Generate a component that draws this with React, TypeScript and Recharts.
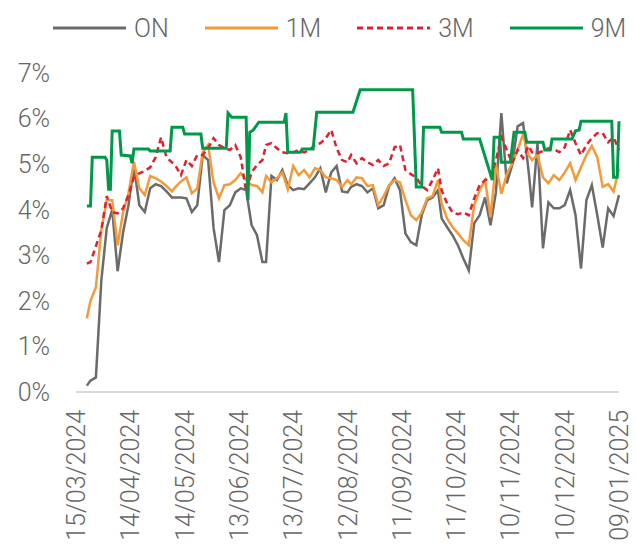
import React from 'react';
import { LineChart, Line, XAxis, YAxis } from 'recharts';

const START = Date.UTC(2024, 2, 15);
const DAY_MS = 86400000;

// day offsets from 15/03/2024
const days = [
  6, 8, 11, 14, 17, 20, 23, 26, 29, 32,
  35, 38, 41, 44, 47, 50, 53, 55, 58, 61,
  64, 67, 70, 73, 76, 79, 82, 85, 88, 91,
  94, 97, 100, 103, 105, 108, 111, 114, 117, 120,
  123, 126, 129, 132, 135, 138, 141, 144, 147, 150,
  152, 155, 158, 161, 164, 167, 170, 173, 176, 179,
  182, 185, 188, 191, 194, 197, 200, 202, 205, 208,
  211, 214, 217, 220, 223, 226, 229, 232, 235, 238,
  241, 244, 247, 250, 252, 255, 258, 261, 264, 267,
  270, 273, 276, 279, 282, 285, 288, 291, 294, 297,
  300,
];

const on = [
  0.14, 0.25, 0.32, 2.45, 3.6, 4.0, 2.65, 3.5, 4.1, 4.96,
  4.1, 3.95, 4.47, 4.56, 4.52, 4.4, 4.27, 4.27, 4.27, 4.25,
  3.95, 4.1, 5.2, 5.09, 3.6, 2.85, 3.99, 4.1, 4.38, 4.47,
  4.43, 3.66, 3.44, 2.85, 2.85, 4.74, 4.65, 4.87, 4.54, 4.43,
  4.47, 4.45, 4.58, 4.71, 4.91, 4.38, 4.82, 4.96, 4.4, 4.38,
  4.5, 4.56, 4.52, 4.38, 4.47, 4.03, 4.1, 4.52, 4.69, 4.43,
  3.48, 3.29, 3.22, 3.88, 4.21, 4.27, 4.43, 3.81, 3.62, 3.44,
  3.22, 2.93, 2.67, 3.7, 3.88, 4.27, 3.66, 4.38, 6.12, 4.58,
  4.98, 5.83, 5.9, 4.87, 4.05, 5.46, 3.15, 4.16, 4.03, 4.03,
  4.1, 4.43, 3.88, 2.71, 4.21, 4.54, 3.88, 3.17, 4.03, 3.86,
  4.32,
];

const m1 = [
  1.62, 2.0, 2.3, 3.55, 4.21, 4.21, 3.22, 3.94, 4.36, 5.05,
  4.47, 4.32, 4.74, 4.69, 4.62, 4.52, 4.4, 4.5, 4.62, 4.71,
  4.36, 4.47, 5.26, 5.42, 4.6, 4.25, 4.54, 4.56, 4.65, 4.8,
  4.65, 4.54, 4.52, 4.38, 4.74, 4.6, 4.69, 4.82, 4.45, 4.96,
  4.76, 4.87, 4.71, 4.91, 4.87, 4.71, 4.69, 4.65, 4.5, 4.65,
  4.56, 4.71, 4.69, 4.52, 4.54, 4.1, 4.3, 4.54, 4.65, 4.6,
  4.21, 3.88, 3.77, 3.94, 4.25, 4.3, 4.65, 4.14, 3.81, 3.62,
  3.48, 3.33, 3.22, 4.1, 4.43, 4.65, 3.84, 5.0, 4.35, 4.78,
  5.02, 5.31, 5.66, 5.2, 5.09, 5.2, 4.71, 4.58, 4.76, 4.65,
  4.82, 5.02, 4.65, 4.93, 5.2, 5.4, 5.15, 4.5, 4.56, 4.4,
  4.9,
];

const m3 = [
  2.82, 2.85, 3.2, 3.55, 4.3, 3.95, 3.92, 4.03, 4.32, 4.71,
  4.8, 4.85, 4.93, 5.15, 5.59, 5.15, 5.04, 4.96, 4.76, 5.09,
  4.96, 5.2, 5.2, 5.35, 5.57, 5.42, 5.35, 5.31, 5.42, 5.15,
  4.4, 4.82, 4.98, 5.09, 5.42, 5.46, 5.35, 5.26, 5.24, 5.26,
  5.31, 5.26, 5.31, 5.42, 5.46, 5.57, 5.75, 5.35, 5.09, 5.04,
  5.2, 5.02, 5.13, 5.04, 4.98, 5.09, 4.96, 5.02, 5.37, 5.42,
  4.87, 4.78, 4.71, 4.52, 4.43, 4.65, 4.91, 4.43, 4.14, 3.94,
  3.9, 3.94, 3.88, 4.25, 4.54, 4.65, 4.69, 5.09, 5.59, 5.31,
  5.02, 5.31, 5.13, 5.4, 5.26, 5.24, 5.29, 5.35, 5.33, 5.26,
  5.37, 5.75, 5.46, 5.2, 5.42, 5.57, 5.68, 5.68, 5.48, 5.59,
  5.31,
];

// 9M moves in steps, so it is listed at its change dates
const m9Days = [
  6, 8, 9, 16, 17, 18, 19, 20, 24, 25, 30, 31, 32, 40, 41, 52, 53, 59, 60, 69,
  70, 83, 84, 86, 94, 95, 96, 98, 101, 115, 116, 117, 124, 125, 131, 133, 153, 157, 186, 188,
  191, 192, 201, 202, 213, 214, 223, 230, 231, 234, 235, 240, 242, 248, 249, 258, 259, 262, 263, 274,
  276, 278, 279, 296, 297, 299, 300,
];
const m9 = [
  4.08, 4.08, 5.15, 5.15, 5.09, 4.45, 4.45, 5.73, 5.73, 5.2, 5.18, 5.02, 5.33, 5.33, 5.29, 5.29, 5.81, 5.81, 5.66, 5.66,
  5.35, 5.35, 6.12, 6.03, 6.03, 4.21, 5.7, 5.75, 5.92, 5.92, 6.12, 5.26, 5.26, 5.33, 5.33, 6.14, 6.14, 6.63, 6.63, 4.5,
  4.5, 5.81, 5.81, 5.7, 5.7, 5.55, 5.55, 4.65, 5.59, 5.59, 5.04, 5.04, 5.7, 5.7, 5.48, 5.48, 5.31, 5.31, 5.55, 5.55,
  5.73, 5.75, 5.94, 5.94, 4.71, 4.71, 5.94,
];

const xTicks = [0, 30, 60, 90, 120, 150, 180, 210, 240, 270, 300];
const yTicks = [0, 1, 2, 3, 4, 5, 6, 7];

const data = days.map((day, i) => ({ day, on: on[i], m1: m1[i], m3: m3[i] }));
const data9 = m9Days.map((day, i) => ({ day, m9: m9[i] }));

const FONT = "Roboto, 'DejaVu Sans', sans-serif";
const TEXT = '#666666';

const series = [
  { key: 'ON', color: '#6b6b6b', dash: undefined },
  { key: '1M', color: '#f59a3b', dash: undefined },
  { key: '3M', color: '#e0202e', dash: '6 4' },
  { key: '9M', color: '#00994a', dash: undefined },
];

const fmtDate = (d: number) => {
  const t = new Date(START + d * DAY_MS);
  const dd = String(t.getUTCDate()).padStart(2, '0');
  const mm = String(t.getUTCMonth() + 1).padStart(2, '0');
  return `${dd}/${mm}/${t.getUTCFullYear()}`;
};

const XTick = ({ x, y, payload }: any) => (
  <text
    x={x}
    y={y}
    dy="0.36em"
    transform={`rotate(-90, ${x}, ${y})`}
    textAnchor="end"
    fill={TEXT}
    fontSize={25}
    fontWeight={300}
    fontFamily={FONT}
  >
    {fmtDate(payload.value)}
  </text>
);

export default function App() {
  return (
    <div style={{ position: 'absolute', left: 0, top: 0, width: 637, height: 556, background: '#fff' }}>
      <div style={{ position: 'absolute', left: 53, top: 10, display: 'flex', alignItems: 'center', fontFamily: FONT, fontSize: 25, fontWeight: 300, color: TEXT }}>
        {series.map((s) => (
          <div key={s.key} style={{ display: 'flex', alignItems: 'center', marginRight: 36 }}>
            <svg width={73} height={36}>
              <line x1={0} x2={73} y1={18} y2={18} stroke={s.color} strokeWidth={3} strokeDasharray={s.dash} />
            </svg>
            <span style={{ marginLeft: 8 }}>{s.key}</span>
          </div>
        ))}
      </div>
      <LineChart width={637} height={556} data={data} margin={{ top: 73, right: 18, bottom: 0, left: 0 }}>
        <XAxis
          dataKey="day"
          type="number"
          domain={[0, 300]}
          ticks={xTicks}
          interval={0}
          height={164}
          tickLine={false}
          tickMargin={12}
          axisLine={{ stroke: '#d9d9d9', strokeWidth: 2 }}
          tick={<XTick />}
        />
        <YAxis
          domain={[0, 7]}
          ticks={yTicks}
          width={76}
          axisLine={false}
          tickLine={false}
          tickMargin={20}
          tickFormatter={(v: number) => `${v}%`}
          tick={{ fill: TEXT, fontSize: 25, fontWeight: 300, fontFamily: FONT }}
        />
        <Line dataKey="on" stroke="#6b6b6b" strokeWidth={2.5} dot={false} activeDot={false} isAnimationActive={false} />
        <Line dataKey="m1" stroke="#f59a3b" strokeWidth={2.5} dot={false} activeDot={false} isAnimationActive={false} />
        <Line dataKey="m3" stroke="#e0202e" strokeWidth={2.5} strokeDasharray="6 4" dot={false} activeDot={false} isAnimationActive={false} />
        <Line data={data9} dataKey="m9" stroke="#00994a" strokeWidth={3} dot={false} activeDot={false} isAnimationActive={false} />
      </LineChart>
    </div>
  );
}
